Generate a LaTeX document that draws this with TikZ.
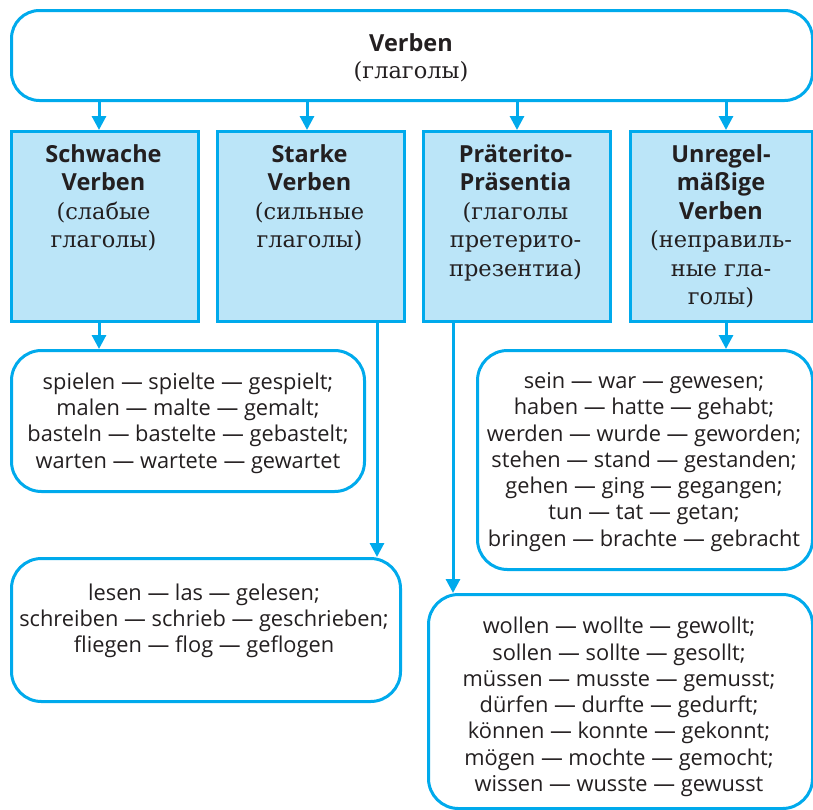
\documentclass[tikz,border=0pt]{standalone}
\usepackage{fontspec}
\usetikzlibrary{arrows.meta}
\newfontfamily\sansf{Open Sans}
\newfontfamily\serifc{DejaVu Serif}
\definecolor{frame}{RGB}{0,170,236}
\definecolor{catfill}{RGB}{187,229,248}
\definecolor{ink}{RGB}{35,31,32}
% heading lines (bold sans) and Russian glosses (serif)
\newcommand\catbf{\fontsize{23.5}{28.5}\selectfont\sansf\bfseries}
\newcommand\catru{\fontsize{22.5}{28.5}\selectfont\serifc}
\begin{document}
\begin{tikzpicture}[x=1pt,y=-1pt,
  boxline/.style={draw=frame,line width=3pt,inner sep=0pt,anchor=north west},
  topbox/.style={boxline,rounded corners=28pt,fill=white},
  catbox/.style={boxline,fill=catfill},
  listbox/.style={boxline,rounded corners=30pt,fill=white},
  cattext/.style={align=center,inner sep=0pt,anchor=north,text=ink,
    font=\fontsize{23.5}{28.5}\selectfont},
  listtext/.style={align=center,inner sep=0pt,text=ink,
    font=\fontsize{21.8}{26.3}\selectfont\sansf},
  arr/.style={draw=frame,line width=3pt,-{Triangle[length=14pt,width=14pt]}}]
\useasboundingbox (0,0) rectangle (813,809);

% top box
\node[topbox,minimum width=801pt,minimum height=90pt] (verben) at (10,9) {};
\node[cattext,font=\fontsize{23.5}{27.5}\selectfont] (verbentext) at (411,33)
  {\catbf Verben\\\catru (глаголы)};

% category boxes
\node[catbox,minimum width=187pt,minimum height=190pt] (b1) at (10,130) {};
\node[catbox,minimum width=187pt,minimum height=190pt] (b2) at (216,130) {};
\node[catbox,minimum width=187pt,minimum height=190pt] (b3) at (422,130) {};
\node[catbox,minimum width=182pt,minimum height=190pt] (b4) at (629,130) {};

\node[cattext] (t1) at (103.5,144)
  {\catbf Schwache\\\catbf Verben\\\catru (слабые\\\catru глаголы)};
\node[cattext] (t2) at (309.5,144)
  {\catbf Starke\\\catbf Verben\\\catru (сильные\\\catru глаголы)};
\node[cattext] (t3) at (515.5,144)
  {\catbf Präterito-\\\catbf Präsentia\\\catru (глаголы\\\catru претерито-\\\catru презентиа)};
\node[cattext] (t4) at (721,144)
  {\catbf Unregel-\\\catbf mäßige\\\catbf Verben\\\catru (неправиль-\\\catru ные гла-\\\catru голы)};

% example boxes
\node[listbox,minimum width=353pt,minimum height=141pt] (weak) at (10,349) {};
\node[listbox,minimum width=389pt,minimum height=143pt] (strong) at (10,557) {};
\node[listbox,minimum width=335pt,minimum height=219pt] (irreg) at (476,349) {};
\node[listbox,minimum width=384pt,minimum height=214pt] (pret) at (427,593) {};

\node[listtext] (weaktext) at (188,423)
  {spielen — spielte — gespielt;\\malen — malte — gemalt;\\basteln — bastelte — gebastelt;\\warten — wartete — gewartet};
\node[listtext] (strongtext) at (204,621)
  {lesen — las — gelesen;\\schreiben — schrieb — geschrieben;\\fliegen — flog — geflogen};
\node[listtext] (irregtext) at (644,462)
  {sein — war — gewesen;\\haben — hatte — gehabt;\\werden — wurde — geworden;\\stehen — stand — gestanden;\\gehen — ging — gegangen;\\tun — tat — getan;\\bringen — brachte — gebracht};
\node[listtext] (prettext) at (619,707)
  {wollen — wollte — gewollt;\\sollen — sollte — gesollt;\\müssen — musste — gemusst;\\dürfen — durfte — gedurft;\\können — konnte — gekonnt;\\mögen — mochte — gemocht;\\wissen — wusste — gewusst};

% arrow columns
\coordinate (c1) at (99,0);
\coordinate (c2) at (307,0);
\coordinate (c3) at (517,0);
\coordinate (c4) at (726,0);
\coordinate (c5) at (377,0);
\coordinate (c6) at (453,0);

\draw[arr] (verben.south -| c1) -- (b1.north -| c1);
\draw[arr] (verben.south -| c2) -- (b2.north -| c2);
\draw[arr] (verben.south -| c3) -- (b3.north -| c3);
\draw[arr] (verben.south -| c4) -- (b4.north -| c4);

\draw[arr] (b1.south -| c1) -- (weak.north -| c1);
\draw[arr] (b2.south -| c5) -- (strong.north -| c5);
\draw[arr] (b3.south -| c6) -- (pret.north -| c6);
\draw[arr] (b4.south -| c4) -- (irreg.north -| c4);
\end{tikzpicture}
\end{document}
